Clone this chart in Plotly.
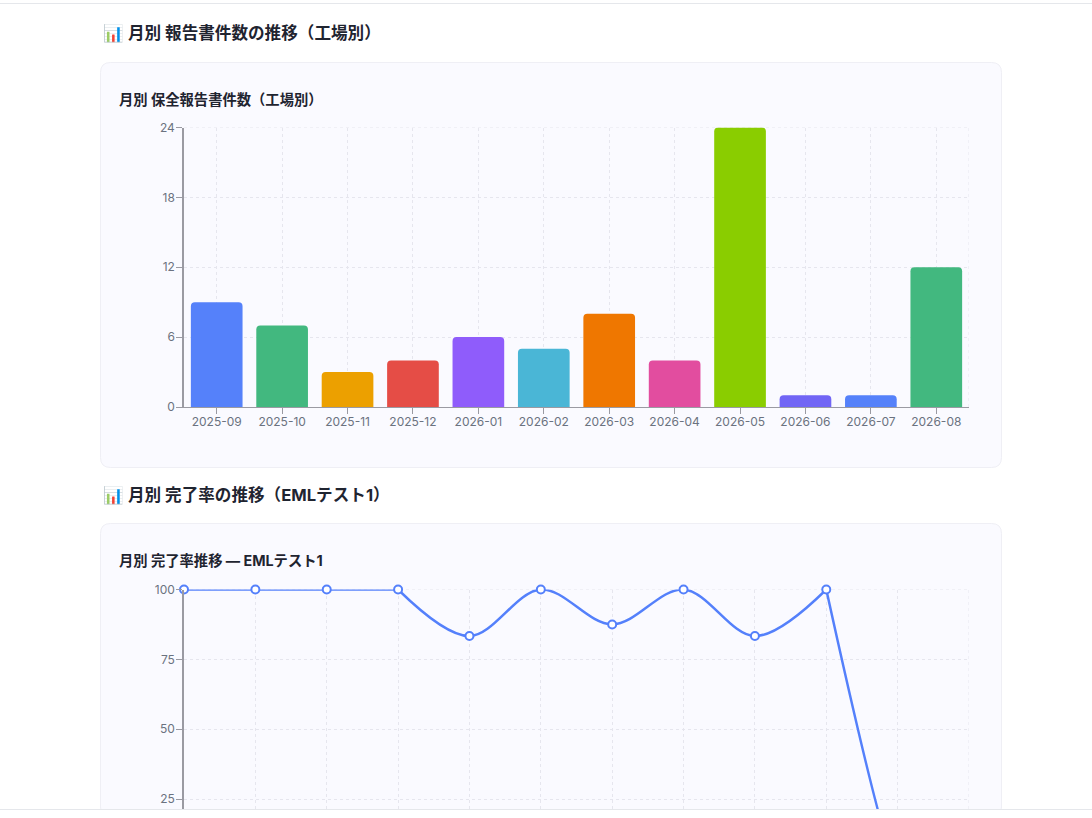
import plotly.graph_objects as go

months = ["2025-09","2025-10","2025-11","2025-12","2026-01","2026-02","2026-03","2026-04","2026-05","2026-06","2026-07","2026-08"]
report_counts = [9,7,3,4,6,5,8,4,24,1,1,12]
bar_colors = ["#5581FA","#42B87F","#ECA000","#E54D46","#8F5CFB","#4AB6D6","#EF7700","#E24D9F","#8ACD00","#7165F5","#5581FA","#42B87F"]
completion_rate = [100,100,100,100,83.33,100,87.5,100,83.33,100,0,0]
count_ticks = [0,6,12,18,24]
rate_ticks = [25,50,75,100]
heading_1 = "📊 月別 報告書件数の推移（工場別）"
title_1 = "月別 保全報告書件数（工場別）"
heading_2 = "📊 月別 完了率の推移（EMLテスト1）"
title_2 = "月別 完了率推移 — EMLテスト1"
segments = [(0,4,"linear",0),(3,10,"spline",1.0),(9,12,"spline",0.3)]

W, H = 1092, 818
FONT = "Inter, 'Noto Sans CJK JP'"
BLUE = "#5480FB"
GRID = "#E6E6EE"
AXIS = "#9A9AA2"
TICK = "#6B7280"
INK = "#1F2430"
def px(x): return x / W
def py(y): return 1 - y / H

fig = go.Figure()
fig.add_trace(go.Bar(x=months, y=report_counts, marker=dict(color=bar_colors, line_width=0), xaxis="x", yaxis="y", showlegend=False))
for a, b, sh, s in segments:
    line = dict(color=BLUE, width=2.5, shape=sh)
    if sh == "spline":
        line["smoothing"] = s
    fig.add_trace(go.Scatter(x=months[a:b], y=completion_rate[a:b], mode="lines", xaxis="x2", yaxis="y2",
                             line=line, cliponaxis=False, showlegend=False))
fig.add_trace(go.Scatter(x=months, y=completion_rate, mode="markers", xaxis="x2", yaxis="y2", cliponaxis=False, showlegend=False,
                         marker=dict(size=8, color="white", line=dict(color=BLUE, width=2))))

def card(y0, y1, r=10):
    x0, x1 = 100.5, 1001.5
    return dict(type="path", xref="paper", yref="paper", layer="below", fillcolor="#FAFAFF", line=dict(color="#EFEFF5", width=1),
                path=f"M {px(x0+r)} {py(y0)} L {px(x1-r)} {py(y0)} Q {px(x1)} {py(y0)} {px(x1)} {py(y0+r)} "
                     f"L {px(x1)} {py(y1-r)} Q {px(x1)} {py(y1)} {px(x1-r)} {py(y1)} L {px(x0+r)} {py(y1)} "
                     f"Q {px(x0)} {py(y1)} {px(x0)} {py(y1-r)} L {px(x0)} {py(y0+r)} Q {px(x0)} {py(y0)} {px(x0+r)} {py(y0)} Z")

dash = dict(color=GRID, width=1, dash="3px,3px")
shapes = [
    card(62.5, 467.5),
    card(523.5, 817),
    dict(type="line", xref="x", yref="y", layer="below", x0=11.5, x1=11.5, y0=0, y1=24, line=dash),
    dict(type="line", xref="x", yref="y", layer="below", x0=-0.5, x1=11.5, y0=24, y1=24, line=dash),
    dict(type="line", xref="x2", yref="y2", layer="below", x0=0, x1=11, y0=100, y1=100, line=dash),
    dict(type="line", xref="x2", yref="y2", layer="below", x0=11, x1=11, y0=21.43, y1=100, line=dash),
    dict(type="rect", xref="paper", yref="paper", layer="above", x0=0, x1=1, y0=0, y1=py(809), fillcolor="white", line_width=0),
    dict(type="line", xref="paper", yref="paper", layer="above", x0=0, x1=1, y0=py(809.5), y1=py(809.5), line=dict(color="#E5E7EB", width=1)),
    dict(type="line", xref="paper", yref="paper", layer="below", x0=0, x1=1, y0=py(3.5), y1=py(3.5), line=dict(color="#E5E7EB", width=1)),
]

def note(text, x, y, size, color=INK):
    return dict(text=f"<b>{text}</b>", x=px(x), y=py(y), xref="paper", yref="paper", xanchor="left", yanchor="middle",
                showarrow=False, borderpad=0, font=dict(family=FONT, size=size, color=color))

annotations = [note(heading_1, 101.5, 33, 16.6), note(title_1, 118, 99.5, 14.3), note(heading_2, 101.5, 495, 16.6), note(title_2, 118, 560.5, 14.3)]

axis_common = dict(showgrid=True, gridcolor=GRID, gridwidth=1, griddash="3px,3px", showline=True, linecolor=AXIS, zeroline=False,
                   ticks="outside", ticklen=6, tickcolor=AXIS, tickwidth=1, tickfont=dict(family="Inter", size=12, color=TICK))

fig.update_layout(
    width=W, height=H, autosize=False, margin=dict(l=0, r=0, t=0, b=0, pad=0, autoexpand=False), paper_bgcolor="white", plot_bgcolor="rgba(0,0,0,0)",
    barcornerradius=4, bargap=0.21, shapes=shapes, annotations=annotations, hovermode=False,
    xaxis=dict(axis_common, domain=[px(184), px(969)], anchor="y", type="category", categoryorder="array", categoryarray=months, range=[-0.5, 11.5], linewidth=1, ticklabelstandoff=-2),
    yaxis=dict(axis_common, domain=[py(407), py(127.5)], anchor="x", range=[0, 24], tickvals=count_ticks, linewidth=1.5, ticklabelstandoff=-1),
    xaxis2=dict(axis_common, domain=[px(184), px(969)], anchor="y2", type="category", categoryorder="array", categoryarray=months, range=[0, 11],
                showticklabels=False, ticks="", showline=False),
    yaxis2=dict(axis_common, domain=[py(809), py(589.5)], anchor="x2", range=[21.43, 100], tickvals=rate_ticks + [100], linewidth=1.5, ticklabelstandoff=-1),
)

fig.write_html("out.html", config={"displayModeBar": False},
               post_script="document.body.style.margin='0';document.body.style.overflow='hidden';")
